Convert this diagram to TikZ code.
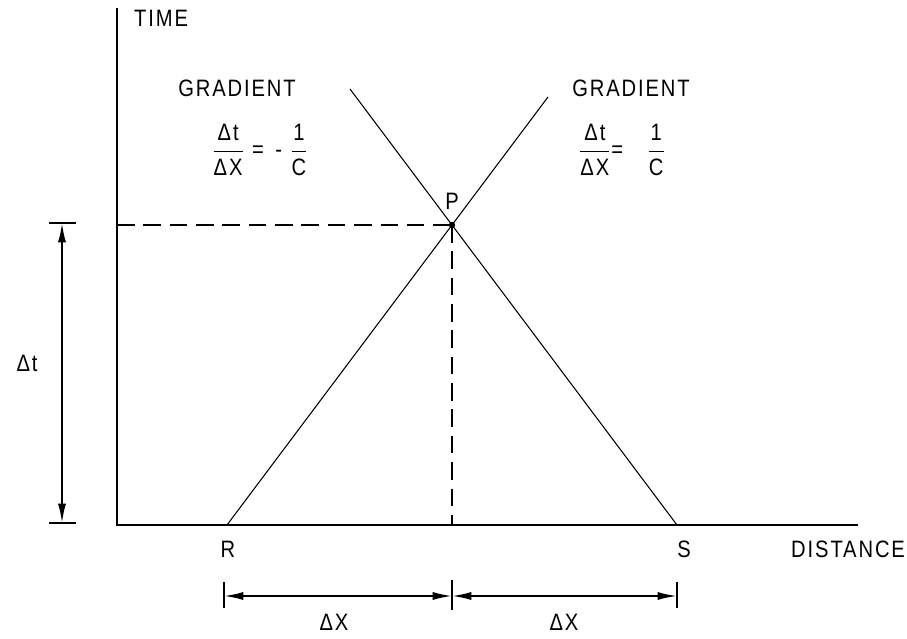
\documentclass[tikz,border=0pt]{standalone}
\usepackage{fontspec}
\setmainfont[FakeStretch=0.85,LetterSpace=8]{Liberation Sans}
\usetikzlibrary{arrows.meta}
\newcommand{\lettering}{\fontsize{13.5}{16}\selectfont}
\begin{document}
\begin{tikzpicture}[x=0.02cm,y=-0.02cm,font=\lettering,
 >={Latex[length=11pt,width=4.6pt]},
 axis/.style={line width=0.9pt},
 charline/.style={line width=0.6pt},
 guide/.style={line width=0.6pt,dash pattern=on 10pt off 5pt},
 dimline/.style={line width=1.1pt,<->},
 tick/.style={line width=1pt}]
 \useasboundingbox (0,0) rectangle (907,639);
 % axes
 \coordinate (o) at (117,525);
 \coordinate (ttop) at (117,8);
 \coordinate (xend) at (858,525);
 \draw[axis] (ttop) -- (o) -- (xend);
 \node[anchor=west] (time) at (128,18) {TIME};
 \node[anchor=west] (dist) at (785,549) {DISTANCE};
 % characteristics through P
 \coordinate (r) at (227,525);
 \coordinate (s) at (677,525);
 \coordinate (p) at (452,225);
 \coordinate (foot) at (452,525);
 \coordinate (pleft) at (117,225);
 \coordinate (rend) at (548,97);
 \coordinate (send) at (350,89);
 \draw[charline] (r) -- (rend);
 \draw[charline] (s) -- (send);
 \fill (p) circle (1.8pt);
 \node (plab) at (452,201) {P};
 \node (rlab) at (228,549) {R};
 \node (slab) at (684,549) {S};
 \draw[guide] (pleft) -- (p);
 \draw[guide] (p) -- (foot);
 % gradients
 \node (gradl) at (237,88) {GRADIENT};
 \node (fracl) at (260,150) {$\displaystyle\frac{\mbox{Δt}}{\mbox{ΔX}}\mbox{ = \,- }\frac{\mbox{1}}{\mbox{C}}$};
 \node (gradr) at (631,88) {GRADIENT};
 \node (fracr) at (622,150) {$\displaystyle\frac{\mbox{Δt}}{\mbox{ΔX}}\mbox{=\quad}\frac{\mbox{1}}{\mbox{C}}$};
 % dimension for delta t
 \coordinate (dttop) at (62,223);
 \coordinate (dtbot) at (62,523);
 \draw[tick] (49,223) -- (76,223);
 \draw[tick] (49,523) -- (76,523);
 \draw[dimline] (dttop) -- (dtbot);
 \node (dtlab) at (27,363) {Δt};
 % dimensions for delta x
 \coordinate (dx1) at (224,596);
 \coordinate (dx2) at (452,596);
 \coordinate (dx3) at (677,596);
 \draw[tick] (224,582) -- (224,608);
 \draw[tick] (452,580) -- (452,610);
 \draw[tick] (677,582) -- (677,608);
 \draw[dimline] (dx1) -- (dx2);
 \draw[dimline] (dx2) -- (dx3);
 \node (dxl) at (334,622) {ΔX};
 \node (dxr) at (564,622) {ΔX};
\end{tikzpicture}
\end{document}
